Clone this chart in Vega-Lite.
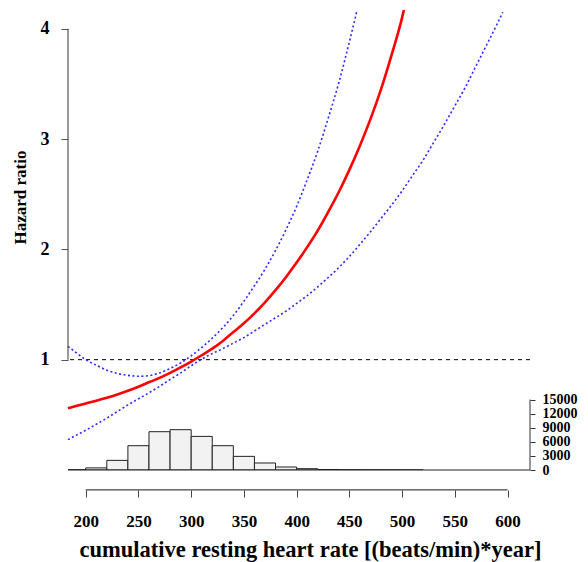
{
  "$schema": "https://vega.github.io/schema/vega-lite/v6.json",
  "width": 462,
  "height": 470,
  "autosize": {"type": "none"},
  "padding": {"left": 68, "right": 58, "top": 0, "bottom": 92},
  "background": "white",
  "config": {"view": {"stroke": null}, "font": "Liberation Serif"},
  "datasets": {
    "est": [
      {"x": 183.2, "hr": 0.56}, {"x": 190, "hr": 0.578}, {"x": 200, "hr": 0.603}, {"x": 210, "hr": 0.628},
      {"x": 220, "hr": 0.655}, {"x": 230, "hr": 0.685}, {"x": 240, "hr": 0.718}, {"x": 250, "hr": 0.755},
      {"x": 260, "hr": 0.795}, {"x": 270, "hr": 0.835}, {"x": 280, "hr": 0.88}, {"x": 290, "hr": 0.93},
      {"x": 300, "hr": 0.983}, {"x": 310, "hr": 1.04}, {"x": 320, "hr": 1.10}, {"x": 330, "hr": 1.17},
      {"x": 340, "hr": 1.25}, {"x": 350, "hr": 1.33}, {"x": 360, "hr": 1.42}, {"x": 370, "hr": 1.52},
      {"x": 380, "hr": 1.63}, {"x": 390, "hr": 1.75}, {"x": 400, "hr": 1.88}, {"x": 410, "hr": 2.02},
      {"x": 420, "hr": 2.17}, {"x": 430, "hr": 2.34}, {"x": 440, "hr": 2.52}, {"x": 450, "hr": 2.72},
      {"x": 460, "hr": 2.94}, {"x": 470, "hr": 3.18}, {"x": 480, "hr": 3.45}, {"x": 490, "hr": 3.76},
      {"x": 500, "hr": 4.10}, {"x": 501.7, "hr": 4.17}
    ],
    "hi": [
      {"x": 183.2, "hr": 1.12}, {"x": 190, "hr": 1.07}, {"x": 200, "hr": 1.00}, {"x": 210, "hr": 0.95},
      {"x": 220, "hr": 0.905}, {"x": 230, "hr": 0.875}, {"x": 240, "hr": 0.858}, {"x": 250, "hr": 0.85},
      {"x": 260, "hr": 0.855}, {"x": 270, "hr": 0.88}, {"x": 280, "hr": 0.92}, {"x": 290, "hr": 0.97},
      {"x": 300, "hr": 1.035}, {"x": 310, "hr": 1.11}, {"x": 320, "hr": 1.195}, {"x": 330, "hr": 1.29},
      {"x": 340, "hr": 1.40}, {"x": 350, "hr": 1.53}, {"x": 360, "hr": 1.67}, {"x": 370, "hr": 1.82},
      {"x": 380, "hr": 1.99}, {"x": 390, "hr": 2.18}, {"x": 400, "hr": 2.39}, {"x": 410, "hr": 2.63},
      {"x": 420, "hr": 2.89}, {"x": 430, "hr": 3.19}, {"x": 440, "hr": 3.51}, {"x": 450, "hr": 3.88},
      {"x": 457.4, "hr": 4.17}
    ],
    "lo": [
      {"x": 183.2, "hr": 0.275}, {"x": 190, "hr": 0.31}, {"x": 200, "hr": 0.36}, {"x": 210, "hr": 0.415},
      {"x": 220, "hr": 0.47}, {"x": 230, "hr": 0.53}, {"x": 240, "hr": 0.59}, {"x": 250, "hr": 0.645},
      {"x": 260, "hr": 0.70}, {"x": 270, "hr": 0.758}, {"x": 280, "hr": 0.82}, {"x": 290, "hr": 0.88},
      {"x": 300, "hr": 0.945}, {"x": 310, "hr": 1.005}, {"x": 320, "hr": 1.055}, {"x": 330, "hr": 1.10},
      {"x": 340, "hr": 1.15}, {"x": 350, "hr": 1.20}, {"x": 360, "hr": 1.26}, {"x": 370, "hr": 1.32},
      {"x": 380, "hr": 1.38}, {"x": 390, "hr": 1.44}, {"x": 400, "hr": 1.51}, {"x": 410, "hr": 1.58},
      {"x": 420, "hr": 1.66}, {"x": 430, "hr": 1.745}, {"x": 440, "hr": 1.835}, {"x": 450, "hr": 1.935},
      {"x": 460, "hr": 2.045}, {"x": 470, "hr": 2.16}, {"x": 480, "hr": 2.28}, {"x": 490, "hr": 2.40},
      {"x": 500, "hr": 2.53}, {"x": 510, "hr": 2.67}, {"x": 520, "hr": 2.81}, {"x": 530, "hr": 2.97},
      {"x": 540, "hr": 3.13}, {"x": 550, "hr": 3.30}, {"x": 560, "hr": 3.47}, {"x": 570, "hr": 3.66},
      {"x": 580, "hr": 3.85}, {"x": 590, "hr": 4.04}, {"x": 595.5, "hr": 4.15}
    ],
    "hist": [
      {"lo": 180, "hi": 200, "count": 60}, {"lo": 200, "hi": 220, "count": 450},
      {"lo": 220, "hi": 240, "count": 2050}, {"lo": 240, "hi": 260, "count": 5170},
      {"lo": 260, "hi": 280, "count": 8150}, {"lo": 280, "hi": 300, "count": 8580},
      {"lo": 300, "hi": 320, "count": 7150}, {"lo": 320, "hi": 340, "count": 5170},
      {"lo": 340, "hi": 360, "count": 2900}, {"lo": 360, "hi": 380, "count": 1490},
      {"lo": 380, "hi": 400, "count": 640}, {"lo": 400, "hi": 420, "count": 280},
      {"lo": 420, "hi": 440, "count": 110}, {"lo": 440, "hi": 460, "count": 60},
      {"lo": 460, "hi": 480, "count": 40}, {"lo": 480, "hi": 500, "count": 25},
      {"lo": 500, "hi": 520, "count": 15}
    ]
  },
  "layer": [
    {
      "layer": [
        {
          "data": {"name": "hist"},
          "mark": {"type": "bar", "fill": "#f2f2f2", "stroke": "#222222", "strokeWidth": 1, "clip": true},
          "encoding": {
            "x": {"field": "lo", "type": "quantitative", "scale": {"domain": [183.2, 621.3], "nice": false, "zero": false},
              "axis": {"orient": "bottom", "values": [200, 250, 300, 350, 400, 450, 500, 550, 600], "domain": false, "grid": false,
                "offset": 20, "tickSize": 7, "tickColor": "#444444", "labelFont": "Liberation Serif", "labelFontWeight": "bold",
                "labelFontSize": 17, "labelColor": "black", "labelPadding": 16, "labelOverlap": false, "labelFlush": false,
                "title": "cumulative resting heart rate [(beats/min)*year]", "titleFont": "Liberation Serif", "titleFontSize": 22.5,
                "titleFontWeight": "bold", "titleColor": "black", "titleX": 242, "titleY": 66, "titleAlign": "center", "titleBaseline": "alphabetic"}},
            "x2": {"field": "hi"},
            "y": {"field": "count", "type": "quantitative", "scale": {"domain": [0, 100000], "nice": false},
              "axis": {"orient": "right", "values": [0, 3000, 6000, 9000, 12000, 15000], "format": "d", "domain": false, "grid": false,
                "tickSize": 5, "tickColor": "#333333", "labelFont": "Liberation Serif", "labelFontWeight": "bold",
                "labelFontSize": 14, "labelColor": "black", "labelPadding": 7, "labelOverlap": false, "labelFlush": false, "title": null}},
            "y2": {"datum": 0}
          }
        },
        {
          "data": {"values": [{}]},
          "mark": {"type": "rule", "color": "#222222", "strokeWidth": 1},
          "encoding": {
            "y": {"datum": 0, "type": "quantitative", "scale": {"domain": [0, 100000], "nice": false},
              "axis": {"orient": "right", "values": [0, 3000, 6000, 9000, 12000, 15000], "format": "d", "domain": false, "grid": false,
                "tickSize": 5, "tickColor": "#333333", "labelFont": "Liberation Serif", "labelFontWeight": "bold",
                "labelFontSize": 14, "labelColor": "black", "labelPadding": 7, "labelOverlap": false, "labelFlush": false, "title": null}}
          }
        },
        {
          "data": {"values": [{}]},
          "mark": {"type": "rule", "color": "#333333", "strokeWidth": 1},
          "encoding": {
            "x": {"datum": 621.3, "type": "quantitative", "scale": {"domain": [183.2, 621.3], "nice": false, "zero": false},
              "axis": {"orient": "bottom", "values": [200, 250, 300, 350, 400, 450, 500, 550, 600], "domain": false, "grid": false,
                "offset": 20, "tickSize": 7, "tickColor": "#444444", "labelFont": "Liberation Serif", "labelFontWeight": "bold",
                "labelFontSize": 17, "labelColor": "black", "labelPadding": 16, "labelOverlap": false, "labelFlush": false,
                "title": "cumulative resting heart rate [(beats/min)*year]", "titleFont": "Liberation Serif", "titleFontSize": 22.5,
                "titleFontWeight": "bold", "titleColor": "black", "titleX": 242, "titleY": 66, "titleAlign": "center", "titleBaseline": "alphabetic"}},
            "y": {"datum": 0, "type": "quantitative", "scale": {"domain": [0, 100000], "nice": false},
              "axis": {"orient": "right", "values": [0, 3000, 6000, 9000, 12000, 15000], "format": "d", "domain": false, "grid": false,
                "tickSize": 5, "tickColor": "#333333", "labelFont": "Liberation Serif", "labelFontWeight": "bold",
                "labelFontSize": 14, "labelColor": "black", "labelPadding": 7, "labelOverlap": false, "labelFlush": false, "title": null}},
            "y2": {"datum": 15000}
          }
        }
      ]
    },
    {
      "layer": [
        {
          "data": {"values": [{}]},
          "mark": {"type": "rule", "color": "black", "strokeDash": [4, 4], "strokeWidth": 1},
          "encoding": {
            "y": {"datum": 1, "type": "quantitative", "scale": {"domain": [0, 4.26], "nice": false},
              "axis": {"orient": "left", "values": [1, 2, 3, 4], "domain": false, "grid": false, "tickSize": 7, "tickColor": "#555555",
                "labelFont": "Liberation Serif", "labelFontWeight": "bold", "labelFontSize": 18, "labelColor": "black",
                "labelPadding": 12, "labelOverlap": false, "labelFlush": false,
                "title": "Hazard ratio", "titleFont": "Liberation Serif", "titleFontSize": 17, "titleFontWeight": "bold",
                "titleColor": "black", "titleX": -48, "titleY": 197, "titleAngle": -90, "titleAlign": "center", "titleBaseline": "middle"}}
          }
        },
        {
          "data": {"name": "hi"},
          "mark": {"type": "line", "color": "#2a2aff", "strokeWidth": 1.6, "strokeDash": [2, 2.5], "interpolate": "monotone"},
          "encoding": {
            "x": {"field": "x", "type": "quantitative", "scale": {"domain": [183.2, 621.3], "nice": false, "zero": false},
              "axis": {"orient": "bottom", "values": [200, 250, 300, 350, 400, 450, 500, 550, 600], "domain": false, "grid": false,
                "offset": 20, "tickSize": 7, "tickColor": "#444444", "labelFont": "Liberation Serif", "labelFontWeight": "bold",
                "labelFontSize": 17, "labelColor": "black", "labelPadding": 16, "labelOverlap": false, "labelFlush": false,
                "title": "cumulative resting heart rate [(beats/min)*year]", "titleFont": "Liberation Serif", "titleFontSize": 22.5,
                "titleFontWeight": "bold", "titleColor": "black", "titleX": 242, "titleY": 66, "titleAlign": "center", "titleBaseline": "alphabetic"}},
            "y": {"field": "hr", "type": "quantitative", "scale": {"domain": [0, 4.26], "nice": false},
              "axis": {"orient": "left", "values": [1, 2, 3, 4], "domain": false, "grid": false, "tickSize": 7, "tickColor": "#555555",
                "labelFont": "Liberation Serif", "labelFontWeight": "bold", "labelFontSize": 18, "labelColor": "black",
                "labelPadding": 12, "labelOverlap": false, "labelFlush": false,
                "title": "Hazard ratio", "titleFont": "Liberation Serif", "titleFontSize": 17, "titleFontWeight": "bold",
                "titleColor": "black", "titleX": -48, "titleY": 197, "titleAngle": -90, "titleAlign": "center", "titleBaseline": "middle"}}
          }
        },
        {
          "data": {"name": "lo"},
          "mark": {"type": "line", "color": "#2a2aff", "strokeWidth": 1.6, "strokeDash": [2, 2.5], "interpolate": "monotone"},
          "encoding": {
            "x": {"field": "x", "type": "quantitative", "scale": {"domain": [183.2, 621.3], "nice": false, "zero": false},
              "axis": {"orient": "bottom", "values": [200, 250, 300, 350, 400, 450, 500, 550, 600], "domain": false, "grid": false,
                "offset": 20, "tickSize": 7, "tickColor": "#444444", "labelFont": "Liberation Serif", "labelFontWeight": "bold",
                "labelFontSize": 17, "labelColor": "black", "labelPadding": 16, "labelOverlap": false, "labelFlush": false,
                "title": "cumulative resting heart rate [(beats/min)*year]", "titleFont": "Liberation Serif", "titleFontSize": 22.5,
                "titleFontWeight": "bold", "titleColor": "black", "titleX": 242, "titleY": 66, "titleAlign": "center", "titleBaseline": "alphabetic"}},
            "y": {"field": "hr", "type": "quantitative", "scale": {"domain": [0, 4.26], "nice": false},
              "axis": {"orient": "left", "values": [1, 2, 3, 4], "domain": false, "grid": false, "tickSize": 7, "tickColor": "#555555",
                "labelFont": "Liberation Serif", "labelFontWeight": "bold", "labelFontSize": 18, "labelColor": "black",
                "labelPadding": 12, "labelOverlap": false, "labelFlush": false,
                "title": "Hazard ratio", "titleFont": "Liberation Serif", "titleFontSize": 17, "titleFontWeight": "bold",
                "titleColor": "black", "titleX": -48, "titleY": 197, "titleAngle": -90, "titleAlign": "center", "titleBaseline": "middle"}}
          }
        },
        {
          "data": {"name": "est"},
          "mark": {"type": "line", "color": "#ff0000", "strokeWidth": 2.6, "interpolate": "monotone"},
          "encoding": {
            "x": {"field": "x", "type": "quantitative", "scale": {"domain": [183.2, 621.3], "nice": false, "zero": false},
              "axis": {"orient": "bottom", "values": [200, 250, 300, 350, 400, 450, 500, 550, 600], "domain": false, "grid": false,
                "offset": 20, "tickSize": 7, "tickColor": "#444444", "labelFont": "Liberation Serif", "labelFontWeight": "bold",
                "labelFontSize": 17, "labelColor": "black", "labelPadding": 16, "labelOverlap": false, "labelFlush": false,
                "title": "cumulative resting heart rate [(beats/min)*year]", "titleFont": "Liberation Serif", "titleFontSize": 22.5,
                "titleFontWeight": "bold", "titleColor": "black", "titleX": 242, "titleY": 66, "titleAlign": "center", "titleBaseline": "alphabetic"}},
            "y": {"field": "hr", "type": "quantitative", "scale": {"domain": [0, 4.26], "nice": false},
              "axis": {"orient": "left", "values": [1, 2, 3, 4], "domain": false, "grid": false, "tickSize": 7, "tickColor": "#555555",
                "labelFont": "Liberation Serif", "labelFontWeight": "bold", "labelFontSize": 18, "labelColor": "black",
                "labelPadding": 12, "labelOverlap": false, "labelFlush": false,
                "title": "Hazard ratio", "titleFont": "Liberation Serif", "titleFontSize": 17, "titleFontWeight": "bold",
                "titleColor": "black", "titleX": -48, "titleY": 197, "titleAngle": -90, "titleAlign": "center", "titleBaseline": "middle"}}
          }
        },
        {
          "data": {"values": [{}]},
          "mark": {"type": "rule", "color": "#555555", "strokeWidth": 1.2},
          "encoding": {
            "x": {"datum": 183.2, "type": "quantitative", "scale": {"domain": [183.2, 621.3], "nice": false, "zero": false},
              "axis": {"orient": "bottom", "values": [200, 250, 300, 350, 400, 450, 500, 550, 600], "domain": false, "grid": false,
                "offset": 20, "tickSize": 7, "tickColor": "#444444", "labelFont": "Liberation Serif", "labelFontWeight": "bold",
                "labelFontSize": 17, "labelColor": "black", "labelPadding": 16, "labelOverlap": false, "labelFlush": false,
                "title": "cumulative resting heart rate [(beats/min)*year]", "titleFont": "Liberation Serif", "titleFontSize": 22.5,
                "titleFontWeight": "bold", "titleColor": "black", "titleX": 242, "titleY": 66, "titleAlign": "center", "titleBaseline": "alphabetic"}},
            "y": {"datum": 1, "type": "quantitative", "scale": {"domain": [0, 4.26], "nice": false},
              "axis": {"orient": "left", "values": [1, 2, 3, 4], "domain": false, "grid": false, "tickSize": 7, "tickColor": "#555555",
                "labelFont": "Liberation Serif", "labelFontWeight": "bold", "labelFontSize": 18, "labelColor": "black",
                "labelPadding": 12, "labelOverlap": false, "labelFlush": false,
                "title": "Hazard ratio", "titleFont": "Liberation Serif", "titleFontSize": 17, "titleFontWeight": "bold",
                "titleColor": "black", "titleX": -48, "titleY": 197, "titleAngle": -90, "titleAlign": "center", "titleBaseline": "middle"}},
            "y2": {"datum": 4}
          }
        },
        {
          "data": {"values": [{}]},
          "mark": {"type": "rule", "color": "#444444", "strokeWidth": 1.2},
          "encoding": {
            "x": {"datum": 200, "type": "quantitative", "scale": {"domain": [183.2, 621.3], "nice": false, "zero": false},
              "axis": {"orient": "bottom", "values": [200, 250, 300, 350, 400, 450, 500, 550, 600], "domain": false, "grid": false,
                "offset": 20, "tickSize": 7, "tickColor": "#444444", "labelFont": "Liberation Serif", "labelFontWeight": "bold",
                "labelFontSize": 17, "labelColor": "black", "labelPadding": 16, "labelOverlap": false, "labelFlush": false,
                "title": "cumulative resting heart rate [(beats/min)*year]", "titleFont": "Liberation Serif", "titleFontSize": 22.5,
                "titleFontWeight": "bold", "titleColor": "black", "titleX": 242, "titleY": 66, "titleAlign": "center", "titleBaseline": "alphabetic"}},
            "x2": {"datum": 600},
            "y": {"datum": -0.181, "type": "quantitative", "scale": {"domain": [0, 4.26], "nice": false},
              "axis": {"orient": "left", "values": [1, 2, 3, 4], "domain": false, "grid": false, "tickSize": 7, "tickColor": "#555555",
                "labelFont": "Liberation Serif", "labelFontWeight": "bold", "labelFontSize": 18, "labelColor": "black",
                "labelPadding": 12, "labelOverlap": false, "labelFlush": false,
                "title": "Hazard ratio", "titleFont": "Liberation Serif", "titleFontSize": 17, "titleFontWeight": "bold",
                "titleColor": "black", "titleX": -48, "titleY": 197, "titleAngle": -90, "titleAlign": "center", "titleBaseline": "middle"}}
          }
        }
      ]
    }
  ],
  "resolve": {"scale": {"y": "independent"}}
}
